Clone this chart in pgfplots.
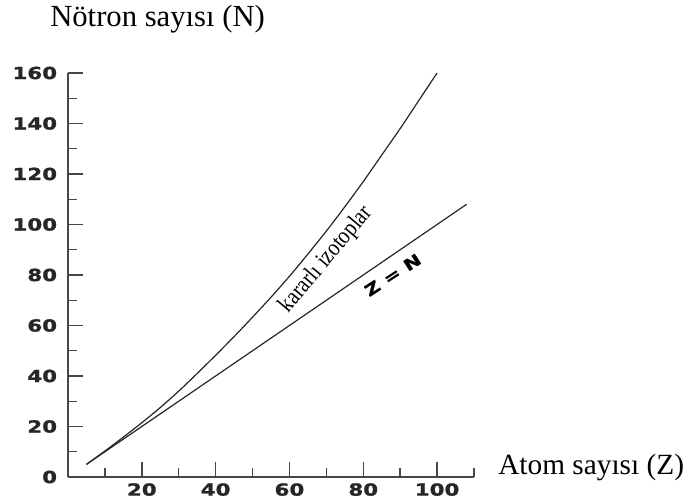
\documentclass[border=0pt]{standalone}
\usepackage{fontspec}
\setmainfont{Liberation Serif}
\newfontfamily\tickfont{DejaVu Sans}[FakeStretch=1.28, FakeBold=1.2]
\newfontfamily\condserif{Liberation Serif}[FakeStretch=0.85]
\usepackage{pgfplots}
\usepackage{pgfplotstable}
\pgfplotsset{compat=1.18}

% kararli izotoplar (stable isotopes), N against Z
\pgfplotstableread{
Z N
5 5
10 10.3
15 15.8
20 21.5
25 27.5
30 34
35 41
40 48.2
45 55.6
50 63.3
55 71.2
60 79.5
65 88.3
70 97.4
75 107
80 117
85 127.5
90 138
95 149
100 160
}\stable

\begin{document}
\begin{tikzpicture}
\begin{axis}[
  scale only axis,
  width=304.5pt, height=303pt,
  xmin=0, xmax=110, ymin=0, ymax=160,
  axis x line*=bottom, axis y line*=left,
  axis line style={-, line width=1.3pt, black!72},
  xtick pos=left, ytick pos=left,
  xtick align=inside, ytick align=inside,
  xtick={20,40,...,100}, minor xtick={10,30,...,110},
  ytick={0,20,...,160}, minor ytick={10,30,...,150},
  major tick length=11pt, minor tick length=7pt,
  every tick/.style={line width=1.1pt, black!72},
  ticklabel style={font=\tickfont\bfseries\fontsize{12.5}{14}\selectfont, text=black!85},
  yticklabel style={inner sep=0pt, xshift=-8pt},
  xticklabel style={inner sep=0pt, yshift=-4.5pt},
  /pgf/number format/assume math mode=true,
]
\addplot[black!85, line width=0.9pt, smooth] table[x=Z, y=N] {\stable};
\addplot[black!85, line width=0.9pt] coordinates {(5,5) (108,108)};
\node[rotate=50, font=\condserif\fontsize{18}{20}\selectfont] at (axis cs:70,86) {kararlı izotoplar};
\node[rotate=33, font=\tickfont\bfseries\fontsize{12}{14}\selectfont] at (axis cs:88,80) {Z = N};
\end{axis}
\node[anchor=base west, inner sep=0pt, font=\fontsize{23}{27}\selectfont] at (-13.5pt,338pt) {Nötron sayısı (N)};
\node[anchor=base west, inner sep=0pt, font=\fontsize{22}{26}\selectfont] at (322.5pt,1.5pt) {Atom sayısı (Z)};
\path (-51pt,-18.75pt) rectangle (463.5pt,357.75pt);
\end{tikzpicture}
\end{document}
